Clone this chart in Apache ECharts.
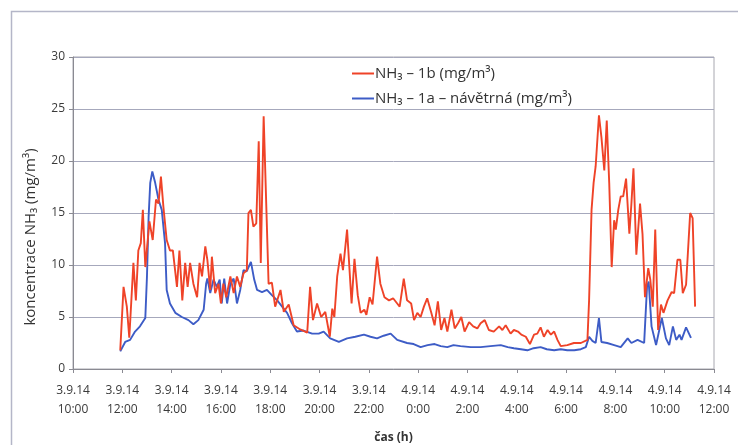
<!DOCTYPE html>
<html>
<head>
<meta charset="utf-8">
<script src="https://cdn.jsdelivr.net/npm/echarts@6/dist/echarts.min.js"></script>
<style>html,body{margin:0;padding:0;background:#fff;}#c{width:738px;height:445px;}</style>
</head>
<body>
<div id="c"></div>
<script>
// minutes since 3.9.14 10:00
var redTimes = [115,123,131,137,147,153,159,165,170,176,186,194,202,208,214,220,228,236,243,253,259,266,273,279,285,293,302,308,314,322,327,334,338,346,354,360,366,373,383,391,399,407,415,423,427,433,439,446,452,457,464,476,484,492,505,513,525,537,553,570,577,584,594,604,614,625,631,636,643,651,657,667,678,685,693,700,709,714,722,729,740,748,758,769,779,789,795,805,813,823,830,838,846,854,862,872,880,888,896,904,911,921,929,937,945,953,964,974,984,992,1002,1012,1024,1037,1045,1053,1065,1073,1083,1091,1102,1112,1122,1130,1138,1146,1155,1163,1171,1179,1187,1203,1219,1236,1252,1256,1262,1267,1272,1280,1286,1293,1299,1305,1311,1317,1321,1327,1333,1339,1346,1354,1359,1364,1371,1380,1386,1392,1400,1405,1411,1417,1424,1431,1437,1447,1457,1463,1471,1478,1484,1492,1496,1502,1508,1514];
var redValues = [1.8,7.9,6.0,3.0,10.2,6.6,11.4,12.1,15.3,9.8,14.2,12.4,16.3,15.9,18.5,15.6,12.4,11.4,11.4,7.9,11.4,6.6,10.2,7.9,10.2,8.2,6.9,10.2,8.9,11.8,10.5,7.6,10.8,7.3,8.2,6.3,8.2,6.9,8.9,7.3,8.9,7.9,9.2,9.5,15.0,15.3,13.7,14.0,21.9,10.2,24.3,8.2,8.3,6.0,7.6,5.5,6.2,4.2,3.8,3.5,7.9,4.7,6.3,5.0,5.5,3.1,5.8,5.0,8.9,11.1,9.5,13.4,6.3,10.6,7.1,5.4,5.7,5.2,6.9,6.2,10.8,8.2,6.9,6.6,6.8,6.3,6.0,8.7,6.6,6.3,4.7,5.4,5.0,6.0,6.8,5.4,4.2,6.5,3.75,4.9,3.6,5.7,3.9,4.4,5.0,3.6,4.5,4.1,3.9,4.4,4.7,3.75,3.6,4.1,3.75,4.2,3.4,3.75,3.6,3.3,3.1,2.4,3.3,3.4,4.0,3.1,3.75,3.3,3.6,2.8,2.2,2.3,2.5,2.5,2.8,6.6,15.3,17.9,19.5,24.4,22.3,19.1,23.9,17.9,9.8,14.3,13.4,15.3,16.6,16.6,18.3,13.0,15.9,19.3,11.0,15.9,13.0,6.9,9.7,8.6,6.0,13.4,3.75,6.2,5.4,6.6,7.4,7.3,10.5,10.5,7.3,8.1,8.2,15.0,14.5,6.0];
var blueTimes = [115,127,139,151,163,176,180,184,188,193,200,208,216,224,228,236,249,265,281,293,305,318,324,327,334,342,350,357,362,368,375,383,391,399,407,415,423,433,441,448,460,472,484,497,509,521,533,545,561,582,598,610,626,647,667,687,708,724,740,756,773,789,813,829,846,863,880,895,911,926,943,968,992,1016,1041,1058,1073,1090,1106,1121,1138,1153,1171,1187,1203,1220,1236,1248,1256,1264,1272,1280,1286,1300,1317,1333,1350,1359,1374,1390,1397,1401,1408,1419,1433,1443,1451,1460,1468,1476,1481,1492,1504];
var blueValues = [1.7,2.6,2.8,3.6,4.1,4.9,8.9,14.6,17.9,19.0,17.9,16.3,15.3,12.1,7.6,6.3,5.4,5.0,4.7,4.3,4.7,5.7,8.2,8.7,7.3,8.6,7.9,8.6,6.3,8.7,6.3,8.2,8.7,6.3,7.6,9.5,9.4,10.3,8.6,7.6,7.4,7.6,7.1,6.6,6.0,5.4,4.4,3.6,3.7,3.4,3.4,3.6,2.95,2.6,2.95,3.1,3.3,3.1,2.95,3.2,3.4,2.8,2.5,2.4,2.1,2.3,2.4,2.2,2.1,2.3,2.2,2.1,2.1,2.2,2.3,2.1,2.0,1.9,1.8,2.0,2.1,1.9,1.8,1.9,1.8,1.8,1.9,2.1,3.1,2.7,2.5,4.9,2.6,2.5,2.3,2.1,2.95,2.5,2.8,2.5,7.9,8.4,4.1,2.3,4.9,2.95,2.3,4.1,2.8,3.3,2.8,4.0,3.0];
var tickLabels = ['3.9.14\n10:00','3.9.14\n12:00','3.9.14\n14:00','3.9.14\n16:00','3.9.14\n18:00','3.9.14\n20:00','3.9.14\n22:00','4.9.14\n0:00','4.9.14\n2:00','4.9.14\n4:00','4.9.14\n6:00','4.9.14\n8:00','4.9.14\n10:00','4.9.14\n12:00'];
var seriesNames = ['NH\u2083 \u2013 1b (mg/m\u00b3)', 'NH\u2083 \u2013 1a \u2013 náv\u011btrná (mg/m\u00b3)'];

function zip(t, v) { return t.map(function (x, i) { return [x, v[i]]; }); }

var chart = echarts.init(document.getElementById('c'), null, {renderer: 'canvas'});
var font = '"Open Sans", "Noto Sans", sans-serif';
chart.setOption({
  animation: false,
  textStyle: {fontFamily: font},
  graphic: [{
    type: 'rect', left: 9, top: 9, silent: true,
    shape: {width: 760, height: 460},
    style: {fill: 'none', stroke: '#b4b6c8', lineWidth: 1.5}
  }],
  grid: {left: 73, right: 24, top: 57, bottom: 76, show: true, borderColor: '#a8a8b0', borderWidth: 1,
         containLabel: false, outerBoundsMode: 'none'},
  legend: {
    orient: 'vertical', left: 347, top: 61, itemGap: 10,
    itemWidth: 22, itemHeight: 2,
    icon: 'rect',
    textStyle: {fontFamily: font, fontSize: 15, color: '#333', padding: [0, 0, 0, -4]},
    data: seriesNames
  },
  xAxis: {
    type: 'value', min: 0, max: 1560, interval: 120,
    name: 'čas (h)', nameLocation: 'middle', nameGap: 63,
    nameTextStyle: {fontFamily: font, fontWeight: 'bold', fontSize: 12, color: '#333'},
    axisLine: {show: true, lineStyle: {color: '#8a8a92', width: 1}},
    axisTick: {show: true, length: 4, lineStyle: {color: '#8a8a92'}},
    splitLine: {show: false},
    axisLabel: {
      margin: 12, fontSize: 12, color: '#3a3a3a', lineHeight: 19, fontFamily: font,
      formatter: function (v) { return tickLabels[Math.round(v / 120)] || ''; }
    }
  },
  yAxis: {
    type: 'value', min: 0, max: 30, interval: 5,
    name: 'koncentrace NH\u2083 (mg/m\u00b3)', nameLocation: 'middle', nameGap: 35,
    nameTextStyle: {fontFamily: font, fontSize: 15, color: '#333', padding: [0, 48, 0, 0]},
    axisLine: {show: true, lineStyle: {color: '#8a8a92', width: 1}},
    axisTick: {show: true, length: 4, lineStyle: {color: '#8a8a92'}},
    splitLine: {show: true, lineStyle: {color: '#a6a8bc', width: 1}},
    axisLabel: {margin: 8, fontSize: 12, color: '#3a3a3a', fontFamily: font}
  },
  series: [{
    name: seriesNames[0], type: 'line', showSymbol: false,
    data: zip(redTimes, redValues),
    lineStyle: {color: '#ef4328', width: 1.9}, itemStyle: {color: '#ef4328'}, z: 3
  }, {
    name: seriesNames[1], type: 'line', showSymbol: false,
    data: zip(blueTimes, blueValues),
    lineStyle: {color: '#3d5cc6', width: 1.9}, itemStyle: {color: '#3d5cc6'}, z: 2
  }]
});
</script>
</body>
</html>
